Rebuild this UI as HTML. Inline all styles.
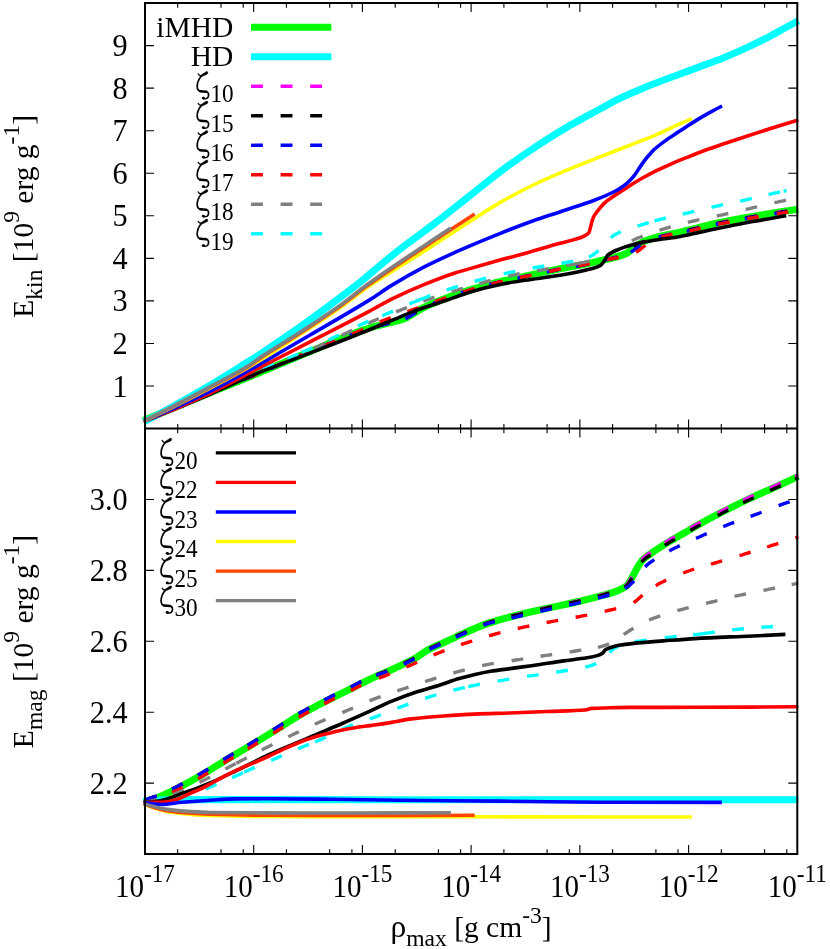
<!DOCTYPE html>
<html><head><meta charset="utf-8"><title>Ekin / Emag vs rho_max</title>
<style>
html,body{margin:0;padding:0;background:#fff;}
svg{display:block;will-change:transform;}
text{font-family:"Liberation Serif",serif;font-size:29.0px;fill:#000;}
text.s{font-size:23.2px;}
text.yt{font-size:30.3px;}
text.t{font-size:29.5px;}
</style></head><body>
<svg width="830" height="949" viewBox="0 0 830 949">
<defs><g id="zt" fill="none" stroke="#000" stroke-linecap="round" stroke-linejoin="round"><path d="M1.35 -12.36 Q2.14 -10.80 3.94 -10.32" stroke-width="1.3"/><path d="M3.70 -10.80 L9.24 -14.65 Q10.99 -15.01 10.93 -13.39 Q10.81 -12.24 9.49 -11.76 L4.55 -9.59Z" fill="#000" stroke-width="0.5"/><path d="M4.18 -10.07 C1.77 -6.94 0.21 -3.33 0.27 0.29 C0.33 3.42 1.71 4.99 4.55 5.17" stroke-width="1.7"/><path d="M3.22 4.93 L9.49 5.47" stroke-width="2.5"/><path d="M9.49 5.47 C11.65 5.83 12.26 8.72 11.17 10.83 C10.33 12.33 7.86 12.70 6.23 11.91" stroke-width="1.7"/><ellipse cx="6.47" cy="11.79" rx="1.6" ry="1.35" fill="#000" stroke="none"/></g></defs>
<rect width="830" height="949" fill="#fff"/>
<g fill="none" stroke-linecap="butt" stroke-linejoin="round">
<!-- top panel curves -->
<path d="M143.5 420.6C165.7 411.1 187.8 401.8 210.0 392.7C226.7 385.8 243.3 379.4 260.0 372.5C276.7 365.6 293.3 358.4 310.0 351.5C326.7 344.6 343.3 337.0 360.0 331.2C365.0 329.4 370.0 327.8 375.0 326.4C381.4 324.6 387.9 323.3 394.3 321.6C397.5 320.8 400.7 320.2 403.9 319.0C407.1 317.8 410.4 315.3 413.6 313.4C416.8 311.5 420.0 309.3 423.2 307.7C429.6 304.5 436.1 302.2 442.5 299.6C446.6 297.9 450.8 296.3 454.9 294.8C459.9 293.0 465.0 291.4 470.0 289.9C476.7 287.9 483.3 286.0 490.0 284.2C494.3 283.1 498.5 282.0 502.8 281.0C510.2 279.3 517.6 277.8 525.0 276.2C536.7 273.7 548.3 271.1 560.0 268.8C570.8 266.6 581.5 265.1 592.3 262.6C594.9 262.0 597.4 261.2 600.0 260.6C604.8 259.5 609.5 258.8 614.3 257.5C618.5 256.4 622.6 255.2 626.8 253.2C629.7 251.8 632.6 248.6 635.5 246.6C638.1 244.8 640.6 242.8 643.2 241.6C646.4 240.1 649.6 239.2 652.8 238.3C656.0 237.3 659.3 236.5 662.5 235.8C666.7 234.8 670.8 234.1 675.0 233.2C680.0 232.1 685.0 230.8 690.0 229.6C696.7 228.0 703.3 226.2 710.0 224.7C716.7 223.2 723.3 221.9 730.0 220.6C736.7 219.3 743.3 218.0 750.0 216.9C766.1 214.1 782.2 211.5 798.3 209.3" stroke="#00ff00" stroke-width="7.1"/>
<path d="M143.5 422.2C165.7 410.8 187.8 398.3 210.0 385.3C223.3 377.5 236.7 368.9 250.0 360.6C253.3 358.5 256.7 356.5 260.0 354.3C266.7 350.0 273.3 345.3 280.0 340.8C286.7 336.3 293.3 331.7 300.0 327.0C313.3 317.5 326.7 307.7 340.0 297.6C348.3 291.3 356.7 285.0 365.0 278.2C370.0 274.1 375.0 269.5 380.0 265.4C386.7 259.9 393.3 254.5 400.0 249.3C406.7 244.1 413.3 239.3 420.0 234.3C425.0 230.6 430.0 227.0 435.0 223.2C446.7 214.3 458.3 204.8 470.0 195.6C480.5 187.3 491.1 178.4 501.6 170.6C511.1 163.6 520.5 156.9 530.0 150.6C541.7 142.8 553.3 135.3 565.0 128.4C576.7 121.5 588.3 115.4 600.0 109.0C606.4 105.5 612.9 101.7 619.3 98.6C626.2 95.2 633.1 92.3 640.0 89.4C646.6 86.6 653.2 84.0 659.8 81.5C666.5 78.9 673.3 76.5 680.0 74.0C686.7 71.5 693.3 69.1 700.0 66.6C707.9 63.7 715.8 60.9 723.7 57.7C731.6 54.5 739.5 51.1 747.4 47.4C755.3 43.7 763.3 39.8 771.2 35.6C776.5 32.8 781.7 29.8 787.0 26.9C790.8 24.8 794.7 22.7 798.5 20.6" stroke="#00ffff" stroke-width="7.1"/>
<path d="M143.5 421.0L144.1 420.7L144.7 420.5L145.4 420.2L146.0 419.9M162.2 412.9L164.9 411.7L167.6 410.5L170.3 409.4L173.1 408.2M189.4 401.3L192.1 400.2L194.8 399.0L197.5 397.9L200.2 396.8M216.6 390.0L219.3 388.9L222.1 387.8L224.8 386.7L227.5 385.6M244.0 379.0L246.7 377.9L249.4 376.8L252.2 375.7L254.9 374.6M271.3 367.8L274.0 366.7L276.7 365.5L279.4 364.4L282.1 363.2M295.9 357.4L298.6 356.3L301.3 355.1L304.0 354.0L306.7 352.8M323.3 345.9L326.0 344.8L328.7 343.6L331.4 342.5L334.1 341.3M350.7 334.6L353.4 333.6L356.2 332.6L359.0 331.6L361.8 330.6M378.1 325.6L380.9 324.8L383.8 324.2L386.7 323.5L389.5 322.8M406.5 317.8L409.0 316.3L411.5 314.7L414.0 313.2L416.5 311.6M433.7 303.1L436.5 302.0L439.2 300.9L441.9 299.8L444.7 298.7M462.0 292.4L464.8 291.5L467.6 290.6L470.4 289.8L473.2 288.9M490.1 284.2L492.9 283.4L495.8 282.7L498.7 282.0L501.5 281.3M518.5 277.6L521.4 277.0L524.3 276.3L527.2 275.7L530.1 275.1M547.7 271.3L550.6 270.7L553.5 270.1L556.4 269.5L559.3 268.9M576.7 265.7L579.6 265.2L582.5 264.6L585.4 264.1L588.3 263.5M605.7 259.4L608.6 258.8L611.5 258.2L614.4 257.5L617.2 256.7M634.5 247.3L636.9 245.6L639.3 243.9L641.8 242.3L644.5 241.1M659.6 236.5L662.4 235.8L665.3 235.1L668.2 234.5L671.1 233.8M687.9 230.1L690.7 229.4L693.6 228.7L696.5 228.0L699.3 227.3M716.7 223.3L719.6 222.7L722.5 222.1L725.4 221.5L728.3 220.9M745.7 217.7L748.6 217.1L751.5 216.6L754.4 216.1L757.3 215.6M775.3 212.7L778.2 212.3L781.1 211.8L784.0 211.4L786.9 210.9" stroke="#ff00ff" stroke-width="3.4"/>
<path d="M143.5 421.0L144.1 420.7L144.7 420.5L145.3 420.2L145.9 420.0M162.1 413.0L164.9 411.9L167.6 410.7L170.3 409.6L173.0 408.4M189.3 401.6L192.1 400.4L194.8 399.3L197.5 398.2L200.2 397.0M216.6 390.3L219.3 389.2L222.1 388.1L224.8 387.0L227.5 385.9M244.0 379.3L246.7 378.2L249.4 377.1L252.2 376.0L254.9 374.9M271.3 368.1L274.0 367.0L276.7 365.8L279.4 364.7L282.1 363.5M295.9 357.7L298.6 356.6L301.3 355.4L304.0 354.3L306.7 353.1M323.3 346.2L326.0 345.1L328.7 343.9L331.4 342.8L334.1 341.6M350.7 334.9L353.4 333.9L356.2 332.9L359.0 331.9L361.8 330.9M378.1 325.9L380.9 325.1L383.8 324.5L386.7 323.8L389.5 323.1M406.5 318.1L409.0 316.6L411.5 315.0L414.0 313.5L416.5 311.9M433.7 303.4L436.5 302.3L439.2 301.2L441.9 300.1L444.7 299.0M462.0 292.7L464.8 291.8L467.6 290.9L470.4 290.1L473.2 289.2M490.1 284.5L492.9 283.7L495.8 283.0L498.7 282.3L501.5 281.6M518.5 277.9L521.4 277.3L524.3 276.6L527.2 276.0L530.1 275.4M547.7 271.6L550.6 271.0L553.5 270.4L556.4 269.8L559.3 269.2M576.7 266.0L579.6 265.5L582.5 264.9L585.4 264.4L588.3 263.8M605.7 259.7L608.6 259.1L611.5 258.5L614.4 257.8L617.2 257.0M634.5 247.6L636.9 245.9L639.3 244.2L641.8 242.6L644.5 241.4M659.6 236.8L662.4 236.1L665.3 235.4L668.2 234.8L671.1 234.1M687.9 230.4L690.7 229.7L693.6 229.0L696.5 228.3L699.3 227.6M716.7 223.6L719.6 223.0L722.5 222.4L725.4 221.8L728.3 221.2M745.7 218.0L748.6 217.4L751.5 216.9L754.4 216.4L757.3 215.9M775.3 213.0L778.2 212.6L781.1 212.1L784.0 211.7L786.9 211.2" stroke="#000000" stroke-width="3.4"/>
<path d="M143.5 421.0L143.8 420.9L144.2 420.7L144.5 420.6L144.8 420.4M161.1 413.5L163.8 412.4L166.5 411.3L169.3 410.1L172.0 409.0M188.3 402.2L191.0 401.0L193.8 399.9L196.5 398.8L199.2 397.6M215.6 390.9L218.3 389.8L221.1 388.7L223.8 387.6L226.5 386.5M243.0 379.9L245.7 378.8L248.4 377.7L251.2 376.6L253.9 375.5M270.3 368.7L273.0 367.6L275.7 366.4L278.4 365.3L281.1 364.1M294.9 358.3L297.6 357.2L300.3 356.0L303.0 354.9L305.7 353.8M322.3 346.8L325.0 345.7L327.7 344.5L330.4 343.4L333.1 342.2M349.7 335.5L352.4 334.5L355.2 333.4L358.0 332.4L360.8 331.4M377.1 326.3L379.9 325.6L382.8 324.9L385.7 324.2L388.5 323.5M405.4 318.8L408.0 317.4L410.5 315.8L413.0 314.3L415.5 312.7M432.7 304.0L435.5 302.9L438.2 301.8L440.9 300.7L443.7 299.6M461.0 293.2L463.8 292.3L466.6 291.4L469.4 290.6L472.2 289.7M489.1 284.9L491.9 284.2L494.8 283.5L497.7 282.7L500.5 282.0M517.5 278.3L520.4 277.7L523.3 277.1L526.2 276.4L529.1 275.8M546.7 272.0L549.6 271.4L552.5 270.8L555.4 270.2L558.3 269.6M575.7 266.4L578.6 265.9L581.5 265.3L584.4 264.8L587.3 264.2M604.7 260.1L607.6 259.6L610.5 259.0L613.4 258.4L616.3 257.7M630.7 252.4L633.1 250.7L635.5 249.0L637.9 247.3L640.3 245.5M658.6 237.3L661.4 236.6L664.3 236.0L667.2 235.3L670.1 234.7M686.8 231.3L689.7 230.7L692.6 230.0L695.5 229.3L698.3 228.6M715.7 224.5L718.6 223.9L721.5 223.3L724.4 222.7L727.3 222.1M744.7 218.8L747.6 218.3L750.5 217.8L753.4 217.3L756.3 216.8M774.3 213.9L777.2 213.4L780.1 213.0L783.0 212.5L785.9 212.1" stroke="#0000ff" stroke-width="3.4"/>
<path d="M143.5 421.0L144.5 420.6L145.4 420.2L146.4 419.8L147.4 419.3M163.6 412.4L166.4 411.2L169.1 410.1L171.8 408.9L174.5 407.8M190.8 400.9L193.6 399.8L196.3 398.7L199.0 397.5L201.7 396.4M218.1 389.7L220.8 388.6L223.6 387.5L226.3 386.4L229.0 385.3M245.5 378.7L248.2 377.6L250.9 376.5L253.7 375.4L256.4 374.3M272.8 367.5L275.5 366.3L278.2 365.2L280.9 364.1L283.6 362.9M297.4 357.1L300.1 356.0L302.8 354.8L305.5 353.7L308.2 352.5M324.7 345.7L327.5 344.6L330.2 343.5L332.9 342.3L335.7 341.2M352.3 334.2L355.0 333.0L357.7 331.8L360.4 330.6L363.1 329.4M379.8 321.9L382.6 320.8L385.3 319.7L388.1 318.6L390.8 317.6M407.4 311.7L410.2 310.7L413.0 309.7L415.8 308.7L418.5 307.7M435.1 301.6L437.9 300.6L440.7 299.6L443.5 298.6L446.3 297.7M463.5 292.1L466.3 291.2L469.1 290.3L471.9 289.5L474.8 288.7M491.6 284.2L494.4 283.5L497.3 282.7L500.2 282.0L503.0 281.3M520.0 277.7L522.9 277.0L525.8 276.4L528.7 275.8L531.6 275.2M549.2 271.4L552.1 270.8L555.0 270.2L557.9 269.6L560.8 269.0M578.2 265.8L581.1 265.3L584.0 264.7L586.9 264.2L589.8 263.6M607.2 259.6L610.1 259.0L613.0 258.5L615.9 258.0L618.8 257.4M636.0 252.4L638.5 250.8L640.8 249.0L643.0 247.1L645.4 245.3M661.2 237.3L664.0 236.4L666.8 235.6L669.7 234.9L672.5 234.3M689.4 231.0L692.2 230.4L695.1 229.7L698.0 229.0L700.8 228.2M718.2 224.2L721.1 223.7L724.0 223.1L726.9 222.5L729.8 221.9M747.2 218.7L750.1 218.2L753.0 217.7L755.9 217.2L758.8 216.7M776.8 213.8L779.7 213.3L782.6 212.9L785.5 212.4L788.4 212.0" stroke="#ff0000" stroke-width="3.4"/>
<path d="M151.5 418.2L154.3 417.2L157.0 416.1L159.8 415.0L162.5 414.0M178.9 407.4L181.7 406.3L184.4 405.1L187.1 404.0L189.8 402.9M206.1 395.9L208.8 394.7L211.5 393.5L214.2 392.3L216.9 391.1M232.9 383.5L235.5 382.2L238.2 381.0L240.9 379.7L243.5 378.4M259.7 371.2L262.4 370.1L265.1 368.9L267.9 367.8L270.6 366.6M286.9 359.8L289.6 358.7L292.4 357.6L295.1 356.4L297.8 355.3M314.0 348.2L316.7 347.0L319.4 345.8L322.1 344.5L324.8 343.3M341.6 335.4L344.2 334.1L346.9 332.9L349.6 331.6L352.2 330.4M368.0 323.2L370.7 322.1L373.4 320.9L376.1 319.8L378.8 318.6M395.9 311.9L398.7 310.8L401.4 309.7L404.1 308.6L406.9 307.5M423.3 301.1L426.0 300.1L428.8 299.1L431.6 298.1L434.4 297.2M451.7 291.7L454.5 290.9L457.3 290.0L460.1 289.1L462.9 288.3M479.3 283.5L482.2 282.8L485.0 282.0L487.9 281.2L490.7 280.5M508.1 276.1L511.0 275.5L513.9 274.9L516.8 274.3L519.7 273.8M537.0 270.8L539.9 270.3L542.8 269.8L545.7 269.3L548.6 268.8M566.2 265.7L569.1 265.1L572.0 264.6L574.9 264.1L577.8 263.5M578.2 263.5L581.1 262.9L584.0 262.4L586.9 261.7L589.8 261.1M606.4 255.4L609.0 254.0L611.5 252.6L614.1 251.0L616.6 249.5M631.9 240.9L634.5 239.5L637.2 238.3L639.9 237.2L642.7 236.1M659.5 230.2L662.3 229.4L665.1 228.5L667.9 227.7L670.8 226.8M687.9 222.4L690.7 221.7L693.6 221.0L696.5 220.3L699.4 219.7M716.7 216.0L719.6 215.4L722.5 214.8L725.4 214.2L728.3 213.5M745.7 209.4L748.5 208.8L751.4 208.1L754.3 207.4L757.1 206.8M774.4 202.7L777.3 202.1L780.2 201.4L783.1 200.8L786.0 200.1" stroke="#808080" stroke-width="3.4"/>
<path d="M155.5 416.7L158.2 415.6L161.0 414.6L163.7 413.5L166.5 412.4M182.9 405.7L185.6 404.6L188.3 403.4L191.0 402.3L193.7 401.1M209.9 394.0L212.6 392.8L215.3 391.6L218.0 390.3L220.7 389.1M236.6 381.4L239.2 380.1L241.9 378.8L244.6 377.5L247.2 376.3M263.4 369.0L266.1 367.9L268.8 366.7L271.5 365.5L274.2 364.4M287.6 358.6L290.3 357.5L293.0 356.3L295.7 355.1L298.4 354.0M301.7 352.5L304.4 351.3L307.1 350.1L309.8 348.9L312.5 347.7M328.5 340.0L331.1 338.8L333.8 337.5L336.5 336.2L339.1 334.9M357.8 326.0L360.5 324.8L363.2 323.6L365.9 322.4L368.6 321.3M382.3 315.7L385.0 314.5L387.7 313.4L390.4 312.2L393.1 311.1M409.4 304.0L412.1 302.8L414.8 301.7L417.5 300.6L420.3 299.5M419.3 299.9L422.0 298.8L424.8 297.8L427.6 296.7L430.3 295.7M446.7 289.9L449.5 289.0L452.3 288.1L455.1 287.2L457.9 286.3M474.6 281.3L477.5 280.5L480.3 279.7L483.1 278.9L486.0 278.2M503.7 273.8L506.6 273.1L509.5 272.5L512.4 271.9L515.3 271.3M532.6 268.0L535.5 267.5L538.4 267.0L541.3 266.5L544.2 266.0M561.5 263.2L564.4 262.7L567.3 262.2L570.2 261.7L573.1 261.3M588.9 257.2L591.5 255.7L594.0 254.2L596.4 252.4L598.6 250.5M610.8 237.7L613.1 235.9L615.6 234.3L618.2 233.0L620.9 231.8M637.6 226.0L640.4 225.2L643.2 224.3L646.0 223.4L648.8 222.6M654.5 221.0L657.3 220.2L660.2 219.5L663.1 218.7L665.9 218.0M682.8 214.1L685.6 213.4L688.5 212.8L691.4 212.1L694.2 211.4M711.5 207.3L714.4 206.6L717.3 206.0L720.2 205.3L723.1 204.7M740.2 201.1L743.1 200.5L746.0 199.8L748.9 199.2L751.8 198.5M768.6 194.5L771.4 193.9L774.3 193.2L777.2 192.6L780.1 191.9M783.6 191.1L784.3 191.0L785.0 190.8L785.8 190.7L786.5 190.5" stroke="#00ffff" stroke-width="3.4"/>
<path d="M143.5 421.2C165.7 412.9 187.8 403.8 210.0 394.3C223.3 388.6 236.7 381.9 250.0 376.3C270.0 367.9 290.0 360.9 310.0 353.1C330.0 345.3 350.0 337.6 370.0 329.5C378.1 326.2 386.2 322.8 394.3 319.4C400.7 316.7 407.2 313.8 413.6 311.4C420.0 309.0 426.4 306.9 432.8 304.8C436.9 303.4 440.9 302.2 445.0 300.8C451.4 298.6 457.9 296.1 464.3 294.0C470.7 291.9 477.2 290.0 483.6 288.3C490.0 286.6 496.4 285.1 502.8 283.9C510.2 282.5 517.6 281.4 525.0 280.3C536.7 278.5 548.3 277.3 560.0 275.3C570.8 273.5 581.5 271.7 592.3 268.6C595.1 267.8 598.0 267.0 600.8 265.2C602.1 264.4 603.3 262.2 604.6 260.4C605.6 259.0 606.5 256.5 607.5 255.6C609.8 253.4 612.0 252.4 614.3 251.3C617.5 249.7 620.7 248.5 623.9 247.4C627.1 246.3 630.4 245.4 633.6 244.5C636.8 243.6 640.0 242.7 643.2 242.1C646.4 241.5 649.6 241.0 652.8 240.5C656.0 240.0 659.3 239.4 662.5 239.0C666.7 238.4 670.8 238.1 675.0 237.5C680.0 236.8 685.0 235.6 690.0 234.5C696.7 233.1 703.3 231.4 710.0 230.0C716.7 228.6 723.3 227.3 730.0 226.0C736.7 224.7 743.3 223.3 750.0 222.1C762.1 219.9 774.1 217.7 786.2 215.7" stroke="#000000" stroke-width="3.6"/>
<path d="M143.5 421.2C165.7 413.3 187.8 403.7 210.0 393.3C223.3 387.1 236.7 379.5 250.0 372.6C270.0 362.3 290.0 352.2 310.0 341.9C330.0 331.6 350.0 321.6 370.0 310.9C377.2 307.1 384.4 302.7 391.6 299.1C402.2 293.9 412.7 289.2 423.3 284.9C433.8 280.6 444.4 276.4 454.9 273.0C459.9 271.4 465.0 270.1 470.0 268.6C480.5 265.6 491.1 262.5 501.6 259.6C507.7 257.9 513.9 256.5 520.0 254.8C533.3 251.2 546.7 246.9 560.0 243.3C565.0 241.9 570.0 241.0 575.0 239.4C578.2 238.4 581.4 237.5 584.6 235.8C586.1 235.0 587.5 234.5 589.0 232.5C589.5 231.8 590.1 228.6 590.6 226.7C591.5 223.5 592.4 219.4 593.3 217.5C594.9 214.0 596.5 212.4 598.1 210.3C600.4 207.4 602.6 204.6 604.9 202.6C607.8 200.0 610.7 198.3 613.6 196.3C616.8 194.1 620.0 192.2 623.2 190.1C626.4 188.0 629.6 185.8 632.8 183.8C636.0 181.8 639.3 179.8 642.5 178.0C646.7 175.6 650.8 173.4 655.0 171.3C659.7 169.0 664.4 166.9 669.1 164.8C674.4 162.5 679.6 160.3 684.9 158.2C689.9 156.2 695.0 154.1 700.0 152.2C715.8 146.3 731.6 141.2 747.4 136.0C764.4 130.4 781.3 125.1 798.3 120.0" stroke="#ff0000" stroke-width="3.6"/>
<path d="M143.5 421.2C165.7 412.4 187.8 402.2 210.0 391.3C223.3 384.7 236.7 377.2 250.0 369.8C270.0 358.7 290.0 346.7 310.0 335.0C330.0 323.3 350.0 312.1 370.0 299.6C377.2 295.1 384.4 289.8 391.6 285.4C402.2 278.9 412.7 272.9 423.3 267.4C433.8 262.0 444.4 257.2 454.9 252.4C459.9 250.1 465.0 247.9 470.0 245.8C480.5 241.3 491.1 237.0 501.6 232.8C512.2 228.6 522.7 224.6 533.3 220.8C543.8 217.1 554.4 213.8 564.9 210.2C574.7 206.9 584.5 203.9 594.3 200.2C600.7 197.8 607.2 195.3 613.6 192.0C616.8 190.4 620.0 188.5 623.2 186.2C625.4 184.6 627.7 182.6 629.9 180.4C631.5 178.8 633.2 176.9 634.8 174.8C636.4 172.7 638.0 169.9 639.6 167.6C641.2 165.2 642.9 162.7 644.5 160.6C646.1 158.5 647.7 156.6 649.3 154.8C650.9 153.0 652.5 151.0 654.1 149.5C655.7 148.0 657.3 146.8 658.9 145.6C662.1 143.1 665.4 140.7 668.6 138.4C671.8 136.2 675.0 134.2 678.2 132.1C681.4 130.0 684.6 127.9 687.8 125.8C691.0 123.7 694.3 121.6 697.5 119.6C701.7 117.1 705.8 114.7 710.0 112.4C714.0 110.2 718.1 108.0 722.1 106.0" stroke="#0000ff" stroke-width="3.6"/>
<path d="M143.5 421.4C165.7 411.0 187.8 399.8 210.0 388.2C223.3 381.2 236.7 374.2 250.0 366.4C266.7 356.6 283.3 345.5 300.0 334.6C313.3 325.9 326.7 317.3 340.0 307.8C348.3 301.9 356.7 294.8 365.0 289.0C385.1 275.0 405.2 263.6 425.3 250.6C440.2 241.0 455.1 230.9 470.0 221.4C480.5 214.7 491.1 207.6 501.6 201.6C512.2 195.6 522.7 190.1 533.3 185.0C543.9 179.9 554.4 175.4 565.0 170.9C576.7 166.0 588.3 161.5 600.0 156.9C610.0 153.0 620.0 149.2 630.0 145.2C639.6 141.4 649.3 137.8 658.9 133.6C664.9 131.0 671.0 127.9 677.0 125.2C681.9 123.0 686.9 120.8 691.8 118.6" stroke="#ffff00" stroke-width="3.6"/>
<path d="M143.5 421.4C165.7 410.6 187.8 399.2 210.0 387.4C223.3 380.3 236.7 373.8 250.0 365.4C253.3 363.3 256.7 360.6 260.0 358.4C273.3 349.5 286.7 341.9 300.0 333.2C313.3 324.5 326.7 315.9 340.0 306.4C348.3 300.4 356.7 293.4 365.0 287.4C385.1 272.9 405.2 259.8 425.3 246.4C433.8 240.7 442.4 235.2 450.9 229.6C458.8 224.4 466.8 219.1 474.7 213.9" stroke="#ff4500" stroke-width="3.6"/>
<path d="M143.5 421.4C165.7 410.3 187.8 398.7 210.0 386.8C223.3 379.6 236.7 373.2 250.0 364.7C253.3 362.6 256.7 359.9 260.0 357.6C273.3 348.6 286.7 341.0 300.0 332.3C313.3 323.6 326.7 315.0 340.0 305.4C348.3 299.4 356.7 292.3 365.0 286.2C385.1 271.5 405.2 258.4 425.3 244.9C433.8 239.2 442.4 233.6 450.9 228.0" stroke="#808080" stroke-width="3.6"/>
<!-- bottom panel curves -->
<path d="M143.5 801.6C145.7 801.1 147.8 800.6 150.0 800.0C152.3 799.4 154.6 798.6 156.9 797.8C162.5 795.8 168.1 792.9 173.7 790.2C179.2 787.5 184.8 784.5 190.3 781.4C196.9 777.8 203.4 774.0 210.0 770.0C215.0 767.0 220.0 763.6 225.0 760.6C231.7 756.5 238.3 752.8 245.0 748.8C250.7 745.4 256.3 742.0 262.0 738.5C268.0 734.8 274.0 731.1 280.0 727.4C286.7 723.2 293.3 718.6 300.0 714.8C306.7 711.0 313.3 707.7 320.0 704.2C325.0 701.6 330.0 699.0 335.0 696.5C340.7 693.7 346.3 691.0 352.0 688.2C358.0 685.2 364.0 682.0 370.0 679.2C377.0 675.9 384.1 673.1 391.1 669.9C395.7 667.8 400.4 665.7 405.0 663.4C408.8 661.5 412.6 659.7 416.4 657.5C419.5 655.7 422.6 653.0 425.7 651.2C430.5 648.5 435.2 646.5 440.0 644.2C447.0 640.9 454.1 637.8 461.1 634.6C465.7 632.5 470.4 630.3 475.0 628.4C479.6 626.5 484.3 624.5 488.9 623.0C495.9 620.7 503.0 618.8 510.0 617.0C521.7 614.0 533.3 611.4 545.0 608.8C556.7 606.2 568.3 603.9 580.0 601.2C587.9 599.3 595.7 597.4 603.6 595.2C608.4 593.8 613.2 592.6 618.0 590.6C620.8 589.4 623.6 588.3 626.4 586.0C628.4 584.4 630.3 580.4 632.3 577.1C634.0 574.3 635.6 570.6 637.3 567.8C639.0 565.0 640.7 562.0 642.4 560.2C644.9 557.5 647.5 556.0 650.0 554.1C656.6 549.3 663.2 545.2 669.8 541.2C674.9 538.1 679.9 535.5 685.0 532.6C688.5 530.6 692.0 528.4 695.5 526.4C703.7 521.8 711.8 517.4 720.0 513.2C729.6 508.2 739.3 503.4 748.9 498.9C757.7 494.7 766.6 491.0 775.4 487.0C783.0 483.5 790.7 480.0 798.3 476.4" stroke="#00ff00" stroke-width="7.1"/>
<path d="M143.5 801.6C149.0 800.9 154.5 800.1 160.0 800.0C173.3 799.7 186.7 799.6 200.0 799.6C266.7 799.6 333.3 799.7 400.0 799.7C466.7 799.7 533.3 799.8 600.0 799.8C666.1 799.8 732.2 799.8 798.3 799.8" stroke="#00ffff" stroke-width="7.1"/>
<path d="M145.8 800.3L148.4 798.9L151.1 797.8L153.9 796.9L156.7 796.1M172.2 789.1L174.9 787.8L177.5 786.5L180.1 785.1L182.7 783.7M198.0 775.3L200.6 773.8L203.1 772.3L205.6 770.8L208.2 769.3M223.4 759.8L225.9 758.3L228.4 756.8L230.9 755.3L233.5 753.8M247.7 745.4L250.3 743.8L252.8 742.3L255.3 740.8L257.8 739.2M273.2 729.8L275.7 728.3L278.2 726.7L280.7 725.2L283.2 723.6M298.7 713.8L301.2 712.3L303.8 710.9L306.4 709.5L309.0 708.1M324.3 700.2L326.9 698.8L329.5 697.5L332.1 696.1L334.8 694.8M350.8 687.0L353.5 685.7L356.1 684.3L358.7 683.0L361.3 681.6M376.3 674.9L379.0 673.9L381.8 672.9L384.6 671.9L387.3 670.8M403.9 663.3L406.6 662.0L409.2 660.7L411.8 659.4L414.4 658.0M429.6 648.5L432.2 647.2L434.9 646.0L437.6 644.7L440.3 643.5M455.9 636.3L458.6 635.1L461.3 633.9L464.0 632.7L466.7 631.5M483.5 624.3L486.3 623.3L489.1 622.3L491.9 621.4L494.7 620.6M511.5 616.0L514.3 615.3L517.2 614.6L520.1 613.9L522.9 613.2M540.3 609.2L543.2 608.5L546.1 607.9L549.0 607.2L551.9 606.6M569.1 602.9L572.0 602.3L574.9 601.7L577.8 601.0L580.6 600.3M597.9 596.0L600.8 595.2L603.6 594.4L606.4 593.6L609.3 592.8M624.9 586.2L627.2 584.3L628.9 581.9L630.4 579.3L631.9 576.8M641.6 559.9L643.6 557.7L645.8 555.8L648.2 554.0L650.6 552.3M664.8 542.9L667.3 541.3L669.8 539.8L672.3 538.3L674.9 536.8M690.4 528.0L692.9 526.5L695.5 525.0L698.1 523.6L700.6 522.1M717.7 513.0L720.3 511.7L722.9 510.3L725.5 509.0L728.2 507.6M743.1 500.3L745.7 499.0L748.4 497.7L751.1 496.5L753.8 495.3M770.0 488.0L772.7 486.8L775.4 485.6L778.1 484.4L780.8 483.1M795.0 476.5L795.8 476.2L796.6 475.8L797.4 475.4L798.2 475.0" stroke="#ff00ff" stroke-width="3.4"/>
<path d="M145.8 800.3L148.4 798.9L151.1 797.8L153.9 796.9L156.7 796.1M172.2 789.1L174.9 787.8L177.5 786.5L180.1 785.1L182.7 783.7M198.0 775.3L200.6 773.8L203.1 772.3L205.6 770.8L208.2 769.3M223.4 759.8L225.9 758.3L228.4 756.8L230.9 755.3L233.5 753.8M247.7 745.4L250.3 743.8L252.8 742.3L255.3 740.8L257.8 739.2M273.2 729.8L275.7 728.3L278.2 726.7L280.7 725.2L283.2 723.6M298.7 713.8L301.2 712.3L303.8 710.9L306.4 709.5L309.0 708.1M324.3 700.2L326.9 698.8L329.5 697.5L332.1 696.1L334.8 694.8M350.8 687.0L353.5 685.7L356.1 684.3L358.7 683.0L361.3 681.6M376.3 674.9L379.0 673.9L381.8 672.9L384.6 671.9L387.3 670.8M403.9 663.3L406.6 662.0L409.2 660.7L411.8 659.4L414.4 658.0M429.6 648.5L432.2 647.2L434.9 646.0L437.6 644.7L440.3 643.5M455.9 636.3L458.6 635.1L461.3 633.9L464.0 632.7L466.7 631.5M483.5 624.3L486.3 623.3L489.1 622.3L491.9 621.5L494.7 620.6M511.5 616.2L514.3 615.5L517.2 614.8L520.1 614.1L522.9 613.4M540.3 609.4L543.2 608.8L546.1 608.2L549.0 607.5L551.9 606.9M569.1 603.2L572.0 602.6L574.9 602.0L577.8 601.3L580.6 600.6M597.9 596.4L600.8 595.6L603.6 594.8L606.4 594.0L609.3 593.2M624.7 587.1L627.1 585.4L628.9 583.0L630.5 580.5L632.0 578.0M641.5 562.2L643.5 560.1L645.8 558.2L648.2 556.5L650.6 554.8M664.8 545.4L667.3 543.8L669.8 542.3L672.3 540.8L674.9 539.3M690.4 530.5L692.9 529.0L695.5 527.5L698.1 526.1L700.6 524.6M717.7 515.5L720.3 514.2L722.9 512.8L725.5 511.5L728.2 510.1M743.1 502.8L745.7 501.5L748.4 500.2L751.1 499.0L753.8 497.8M770.0 490.5L772.7 489.3L775.4 488.1L778.1 486.9L780.8 485.6M795.0 479.0L795.8 478.7L796.6 478.3L797.4 477.9L798.2 477.5" stroke="#000000" stroke-width="3.4"/>
<path d="M145.8 800.3L148.4 798.9L151.1 797.8L153.9 796.9L156.7 796.1M172.2 789.1L174.9 787.8L177.5 786.5L180.1 785.1L182.7 783.7M198.0 775.3L200.6 773.8L203.1 772.3L205.6 770.8L208.2 769.3M223.4 759.8L225.9 758.3L228.4 756.8L230.9 755.3L233.5 753.8M247.7 745.4L250.3 743.8L252.8 742.3L255.3 740.8L257.8 739.2M273.2 729.8L275.7 728.3L278.2 726.7L280.7 725.2L283.2 723.6M298.7 713.8L301.2 712.3L303.8 710.9L306.4 709.5L309.0 708.1M324.3 700.2L326.9 698.8L329.5 697.5L332.1 696.1L334.8 694.8M350.8 687.0L353.5 685.7L356.1 684.3L358.7 682.9L361.3 681.5M376.2 675.2L379.0 674.3L381.8 673.4L384.6 672.5L387.4 671.6M403.9 664.2L406.6 662.9L409.2 661.6L411.8 660.3L414.4 658.9M429.6 649.4L432.2 648.1L434.9 646.9L437.6 645.6L440.3 644.4M455.9 637.2L458.6 636.0L461.3 634.8L464.0 633.6L466.7 632.4M483.5 625.2L486.3 624.1L489.1 623.2L491.9 622.5L494.8 621.7M511.5 618.1L514.3 617.4L517.2 616.7L520.1 616.0L522.9 615.3M540.3 611.3L543.2 610.6L546.1 610.0L549.0 609.3L551.9 608.7M569.1 605.0L572.0 604.4L574.9 603.8L577.8 603.1L580.6 602.4M597.9 598.2L600.8 597.4L603.6 596.6L606.4 595.8L609.3 595.0M625.0 588.6L627.5 586.9L629.8 585.1L632.0 583.1L634.1 581.0M645.1 567.0L647.1 564.9L649.4 563.0L651.8 561.4L654.3 559.7M669.2 550.9L671.9 549.5L674.5 548.2L677.1 546.9L679.8 545.6M696.0 538.4L698.7 537.2L701.4 536.0L704.1 534.8L706.8 533.6M723.2 526.6L726.0 525.5L728.7 524.4L731.4 523.3L734.2 522.3M750.6 516.3L753.3 515.3L756.1 514.3L758.9 513.3L761.6 512.2M778.6 505.7L781.3 504.7L784.1 503.7L786.9 502.7L789.7 501.8" stroke="#0000ff" stroke-width="3.4"/>
<path d="M145.2 801.7L148.2 801.8L151.1 801.7L153.9 800.8L156.6 799.7M172.2 792.7L174.9 791.4L177.5 790.1L180.1 788.7L182.7 787.3M198.0 778.9L200.6 777.4L203.1 775.9L205.6 774.4L208.2 772.9M223.4 763.4L225.9 761.9L228.4 760.4L230.9 758.9L233.5 757.4M247.7 749.0L250.3 747.4L252.8 745.9L255.3 744.4L257.8 742.8M273.2 733.4L275.7 731.9L278.2 730.3L280.7 728.8L283.2 727.2M298.7 717.4L301.2 715.9L303.8 714.5L306.4 713.1L309.0 711.7M324.3 703.8L326.9 702.4L329.5 701.1L332.1 699.7L334.8 698.4M350.8 690.6L353.5 689.2L356.1 687.9L358.7 686.5L361.3 685.2M378.8 678.2L381.5 677.2L384.3 676.1L387.0 675.0L389.8 673.9M406.3 667.0L409.0 665.9L411.7 664.7L414.4 663.5L417.1 662.3M433.5 655.0L436.3 653.9L439.0 652.8L441.7 651.7L444.5 650.7M461.0 644.7L463.8 643.7L466.6 642.8L469.4 641.9L472.2 641.0M489.1 635.8L492.0 635.0L494.8 634.2L497.6 633.4L500.5 632.7M517.7 628.5L520.6 627.8L523.5 627.2L526.4 626.6L529.3 626.0M546.6 622.5L549.5 622.0L552.4 621.4L555.3 620.9L558.2 620.3M575.6 617.3L578.5 616.8L581.4 616.2L584.3 615.6L587.2 615.1M604.7 611.3L607.5 610.7L610.4 610.0L613.3 609.3L616.2 608.7M633.6 602.7L636.0 601.0L638.2 599.0L640.4 597.0L642.6 595.1M655.8 585.7L658.3 584.1L660.9 582.7L663.5 581.4L666.2 580.1M683.1 573.0L685.8 572.0L688.6 571.0L691.4 570.0L694.2 569.1M710.9 564.2L713.8 563.3L716.6 562.5L719.4 561.6L722.2 560.8M739.5 555.6L742.3 554.8L745.1 553.9L747.9 553.0L750.7 552.2M767.1 547.0L769.9 546.1L772.7 545.2L775.5 544.3L778.3 543.4M795.3 537.8L796.0 537.6L796.8 537.3L797.5 537.1L798.2 536.8" stroke="#ff0000" stroke-width="3.4"/>
<path d="M144.6 802.2L147.5 801.7L150.4 801.2L153.3 800.6L156.2 799.9M173.0 794.6L175.8 793.5L178.5 792.4L181.2 791.3L183.9 790.1M199.5 782.5L202.2 781.1L204.8 779.8L207.4 778.5L210.1 777.1M225.3 769.1L227.9 767.7L230.5 766.3L233.1 764.9L235.7 763.5M236.3 763.3L238.9 761.9L241.5 760.5L244.1 759.2L246.7 757.8M261.8 750.0L264.5 748.6L267.1 747.3L269.7 746.0L272.4 744.6M288.3 736.8L290.9 735.5L293.6 734.2L296.3 732.9L298.9 731.7M314.8 724.2L317.5 723.0L320.2 721.8L322.9 720.6L325.6 719.5M342.3 712.6L345.0 711.4L347.7 710.3L350.4 709.1L353.1 708.0M369.6 700.8L372.4 699.7L375.1 698.6L377.9 697.6L380.6 696.6M397.3 690.9L400.1 689.9L402.9 689.0L405.7 688.1L408.5 687.1M425.1 681.6L427.9 680.7L430.7 679.8L433.5 678.9L436.3 678.0M453.4 673.0L456.3 672.2L459.1 671.4L462.0 670.6L464.8 669.9M482.2 665.6L485.1 665.0L488.0 664.4L490.9 663.9L493.8 663.4M511.6 660.7L514.5 660.2L517.4 659.8L520.3 659.4L523.2 658.9M540.5 656.3L543.4 655.8L546.3 655.4L549.2 655.0L552.1 654.5M569.7 651.9L572.6 651.5L575.5 651.0L578.4 650.5L581.3 650.1M597.9 647.3L600.7 646.6L603.6 645.9L606.4 644.9L609.1 643.7M623.7 634.7L626.1 633.0L628.5 631.3L631.0 629.7L633.5 628.2M649.1 620.0L651.9 618.9L654.6 617.8L657.4 616.8L660.2 615.8M677.3 610.7L680.2 609.9L683.0 609.1L685.8 608.3L688.7 607.6M706.0 603.4L708.8 602.7L711.7 602.0L714.6 601.3L717.4 600.6M734.5 596.4L737.4 595.7L740.3 595.1L743.2 594.5L746.1 593.9M763.4 590.4L766.3 589.8L769.2 589.2L772.1 588.6L775.0 588.0M791.7 584.6L793.4 584.2L795.0 583.9L796.6 583.5L798.2 583.2" stroke="#808080" stroke-width="3.4"/>
<path d="M148.7 802.4L151.6 802.3L154.6 802.1L157.5 802.0L160.5 801.8M177.9 798.8L180.7 798.0L183.5 797.1L186.3 796.2L189.1 795.2M205.6 788.8L208.4 787.7L211.1 786.6L213.8 785.5L216.5 784.3M232.2 777.6L234.9 776.4L237.6 775.2L240.3 774.0L243.0 772.8M244.1 772.2L246.8 771.0L249.5 769.8L252.2 768.6L254.9 767.4M271.2 760.4L273.9 759.3L276.6 758.1L279.3 756.9L282.0 755.8M298.1 748.8L300.8 747.6L303.5 746.5L306.2 745.4L309.0 744.3M315.1 741.9L317.8 740.8L320.5 739.6L323.2 738.4L325.9 737.1M342.1 729.2L344.8 728.0L347.5 726.9L350.2 725.8L353.0 724.7M369.9 718.8L372.6 717.8L375.4 716.8L378.2 715.8L380.9 714.7M397.4 708.3L400.1 707.2L402.9 706.2L405.7 705.2L408.4 704.2M425.1 698.3L427.9 697.4L430.7 696.5L433.5 695.6L436.4 694.8M453.4 690.2L456.2 689.5L459.1 688.8L462.0 688.1L464.8 687.4M468.3 686.6L471.2 686.0L474.1 685.4L477.0 684.8L479.9 684.3M497.6 681.1L500.5 680.6L503.4 680.1L506.3 679.6L509.2 679.1M527.0 676.4L529.9 675.9L532.8 675.5L535.7 675.1L538.6 674.6M556.2 672.1L559.1 671.7L562.0 671.2L564.9 670.7L567.8 670.3M585.2 667.2L588.1 666.5L590.9 665.7L593.7 664.7L596.3 663.5M609.6 652.6L611.6 650.5L613.9 648.6L616.4 647.0L618.9 645.5M634.8 641.6L637.8 641.2L640.7 640.9L643.6 640.5L646.6 640.1M664.9 637.8L667.9 637.4L670.8 637.1L673.7 636.8L676.7 636.4M693.1 634.7L696.1 634.4L699.0 634.1L701.9 633.7L704.9 633.4M703.1 633.6L706.1 633.3L709.0 632.9L711.9 632.5L714.9 632.1M732.1 629.9L735.1 629.6L738.0 629.3L740.9 629.0L743.9 628.7M761.3 627.3L764.2 627.1L767.2 626.9L770.1 626.7L773.0 626.5" stroke="#00ffff" stroke-width="3.4"/>
<path d="M143.5 802.3C149.0 802.3 154.5 801.5 160.0 800.7C163.9 800.1 167.7 798.7 171.6 797.4C175.1 796.3 178.7 794.7 182.2 793.4C186.8 791.7 191.4 790.3 196.0 788.6C200.7 786.9 205.3 785.0 210.0 783.0C215.0 780.8 220.0 778.4 225.0 776.0C233.6 771.9 242.1 767.8 250.7 763.6C257.1 760.5 263.6 757.1 270.0 754.2C279.8 749.7 289.7 745.8 299.5 741.6C303.9 739.7 308.3 737.9 312.7 736.0C322.5 731.8 332.4 727.8 342.2 723.5C351.5 719.5 360.7 715.4 370.0 711.2C377.3 707.9 384.6 704.2 391.9 701.2C400.1 697.8 408.2 694.7 416.4 692.0C424.3 689.4 432.1 687.5 440.0 685.0C446.4 683.0 452.7 680.5 459.1 678.6C464.4 677.0 469.6 675.6 474.9 674.4C480.2 673.2 485.4 672.1 490.7 671.2C497.1 670.2 503.6 669.5 510.0 668.6C517.2 667.6 524.4 666.7 531.6 665.7C542.2 664.2 552.7 662.4 563.3 660.9C571.2 659.8 579.1 659.1 587.0 657.8C590.7 657.2 594.4 656.6 598.1 655.4C599.7 654.9 601.2 654.2 602.8 653.0C603.6 652.4 604.4 650.5 605.2 649.9C607.0 648.6 608.9 648.1 610.7 647.5C613.9 646.5 617.0 645.7 620.2 645.1C624.0 644.4 627.8 644.0 631.6 643.6C642.2 642.5 652.7 641.7 663.3 640.9C673.8 640.1 684.4 639.2 694.9 638.6C706.6 637.9 718.3 637.4 730.0 636.9C735.8 636.6 741.6 636.4 747.4 636.2C760.1 635.7 772.7 635.1 785.4 634.4" stroke="#000000" stroke-width="3.6"/>
<path d="M143.5 802.6C147.6 802.6 151.7 802.5 155.8 802.4C159.0 802.3 162.1 802.2 165.3 802.0C168.2 801.8 171.1 801.0 174.0 800.2C176.7 799.5 179.5 798.4 182.2 797.3C184.8 796.2 187.4 794.6 190.0 793.4C193.0 792.0 196.0 791.0 199.0 789.7C202.7 788.1 206.3 786.1 210.0 784.2C215.0 781.6 220.0 778.5 225.0 775.9C231.7 772.5 238.3 769.3 245.0 766.4C250.0 764.2 255.0 762.4 260.0 760.2C265.3 757.9 270.5 755.2 275.8 752.8C281.1 750.4 286.3 747.9 291.6 745.7C296.9 743.5 302.1 741.2 307.4 739.4C312.7 737.6 318.0 736.0 323.3 734.6C328.6 733.2 333.8 731.8 339.1 730.7C344.4 729.6 349.6 728.5 354.9 727.7C359.9 726.9 365.0 726.3 370.0 725.6C376.7 724.6 383.3 723.7 390.0 722.6C397.2 721.4 404.4 719.8 411.6 718.9C422.2 717.6 432.7 716.8 443.3 716.0C453.8 715.2 464.4 714.5 474.9 714.1C486.6 713.6 498.3 713.4 510.0 713.0C522.5 712.6 534.9 712.0 547.4 711.5C560.1 711.0 572.7 711.0 585.4 710.0C587.5 709.8 589.6 708.5 591.7 708.4C598.0 708.0 604.4 708.0 610.7 707.8C617.1 707.6 623.6 707.4 630.0 707.4C653.3 707.3 676.7 707.4 700.0 707.3C732.8 707.2 765.5 707.0 798.3 706.8" stroke="#ff0000" stroke-width="3.6"/>
<path d="M143.5 802.3C149.3 803.6 155.2 804.5 161.0 804.5C168.1 804.5 175.1 802.9 182.2 802.3C191.5 801.5 200.7 800.8 210.0 800.2C218.3 799.7 226.6 798.9 234.9 798.9C246.6 798.8 258.3 798.8 270.0 798.8C290.0 798.8 310.0 799.1 330.0 799.3C353.3 799.5 376.7 800.0 400.0 800.2C433.3 800.6 466.7 800.8 500.0 801.1C533.3 801.4 566.7 802.1 600.0 802.2C640.6 802.3 681.2 802.4 721.8 802.4" stroke="#0000ff" stroke-width="3.6"/>
<path d="M143.5 803.6C147.6 805.6 151.7 807.3 155.8 808.6C159.0 809.6 162.1 810.6 165.3 811.2C173.7 812.7 182.2 813.6 190.6 814.3C197.1 814.8 203.5 815.3 210.0 815.5C230.0 816.1 250.0 816.4 270.0 816.5C296.7 816.7 323.3 816.8 350.0 816.8C391.6 816.8 433.1 816.8 474.7 816.8C516.5 816.8 558.2 817.0 600.0 817.0C630.6 817.0 661.2 817.0 691.8 817.0" stroke="#ffff00" stroke-width="3.6"/>
<path d="M143.5 803.6C147.6 805.3 151.7 806.8 155.8 808.0C159.0 808.9 162.1 809.9 165.3 810.4C173.7 811.8 182.2 812.7 190.6 813.3C197.1 813.8 203.5 814.1 210.0 814.3C230.0 814.9 250.0 815.2 270.0 815.3C296.7 815.4 323.3 815.5 350.0 815.5C391.6 815.5 433.1 815.5 474.7 815.3" stroke="#ff4500" stroke-width="3.6"/>
<path d="M143.5 803.6C147.6 804.9 151.7 806.0 155.8 807.0C159.0 807.8 162.1 808.6 165.3 809.1C173.7 810.3 182.2 811.1 190.6 811.6C197.1 812.0 203.5 812.4 210.0 812.5C230.0 812.8 250.0 812.9 270.0 812.9C296.7 813.0 323.3 813.0 350.0 813.0C383.6 813.0 417.3 812.9 450.9 812.7" stroke="#808080" stroke-width="3.6"/>
<!-- legend samples -->
<path d="M251.0 27.3H331.4" stroke="#00ff00" stroke-width="7.1"/>
<path d="M251.0 56.8H331.4" stroke="#00ffff" stroke-width="7.1"/>
<path d="M251.0 86.3H331.4" stroke="#ff00ff" stroke-width="3.4" stroke-dasharray="11.9 17.7"/>
<path d="M251.0 115.8H331.4" stroke="#000000" stroke-width="3.4" stroke-dasharray="11.9 17.7"/>
<path d="M251.0 145.3H331.4" stroke="#0000ff" stroke-width="3.4" stroke-dasharray="11.9 17.7"/>
<path d="M251.0 174.8H331.4" stroke="#ff0000" stroke-width="3.4" stroke-dasharray="11.9 17.7"/>
<path d="M251.0 204.3H331.4" stroke="#808080" stroke-width="3.4" stroke-dasharray="11.9 17.7"/>
<path d="M251.0 233.8H331.4" stroke="#00ffff" stroke-width="3.4" stroke-dasharray="11.9 17.7"/>
<path d="M215.8 452.9H296.0" stroke="#000000" stroke-width="3.4"/>
<path d="M215.8 482.4H296.0" stroke="#ff0000" stroke-width="3.4"/>
<path d="M215.8 512.0H296.0" stroke="#0000ff" stroke-width="3.4"/>
<path d="M215.8 541.5H296.0" stroke="#ffff00" stroke-width="3.4"/>
<path d="M215.8 571.1H296.0" stroke="#ff4500" stroke-width="3.4"/>
<path d="M215.8 600.6H296.0" stroke="#808080" stroke-width="3.4"/>
</g>
<g fill="none" stroke="#000">
<path d="M177.7 3.0v4.7M177.7 423.9v9.4M177.7 854.0v-4.7M221.0 3.0v4.7M221.0 423.9v9.4M221.0 854.0v-4.7M243.2 3.0v4.7M243.2 423.9v9.4M243.2 854.0v-4.7M253.7 3.0v9M253.7 419.6v18M253.7 854.0v-9M286.4 3.0v4.7M286.4 423.9v9.4M286.4 854.0v-4.7M329.7 3.0v4.7M329.7 423.9v9.4M329.7 854.0v-4.7M351.9 3.0v4.7M351.9 423.9v9.4M351.9 854.0v-4.7M362.4 3.0v9M362.4 419.6v18M362.4 854.0v-9M395.2 3.0v4.7M395.2 423.9v9.4M395.2 854.0v-4.7M438.4 3.0v4.7M438.4 423.9v9.4M438.4 854.0v-4.7M460.6 3.0v4.7M460.6 423.9v9.4M460.6 854.0v-4.7M471.1 3.0v9M471.1 419.6v18M471.1 854.0v-9M503.9 3.0v4.7M503.9 423.9v9.4M503.9 854.0v-4.7M547.1 3.0v4.7M547.1 423.9v9.4M547.1 854.0v-4.7M569.3 3.0v4.7M569.3 423.9v9.4M569.3 854.0v-4.7M579.9 3.0v9M579.9 419.6v18M579.9 854.0v-9M612.6 3.0v4.7M612.6 423.9v9.4M612.6 854.0v-4.7M655.9 3.0v4.7M655.9 423.9v9.4M655.9 854.0v-4.7M678.0 3.0v4.7M678.0 423.9v9.4M678.0 854.0v-4.7M688.6 3.0v9M688.6 419.6v18M688.6 854.0v-9M721.3 3.0v4.7M721.3 423.9v9.4M721.3 854.0v-4.7M764.6 3.0v4.7M764.6 423.9v9.4M764.6 854.0v-4.7M786.8 3.0v4.7M786.8 423.9v9.4M786.8 854.0v-4.7M145.0 386.0h9M797.3 386.0h-9M145.0 343.5h9M797.3 343.5h-9M145.0 300.9h9M797.3 300.9h-9M145.0 258.4h9M797.3 258.4h-9M145.0 215.8h9M797.3 215.8h-9M145.0 173.2h9M797.3 173.2h-9M145.0 130.7h9M797.3 130.7h-9M145.0 88.1h9M797.3 88.1h-9M145.0 45.6h9M797.3 45.6h-9M145.0 783.1h9M797.3 783.1h-9M145.0 712.2h9M797.3 712.2h-9M145.0 641.3h9M797.3 641.3h-9M145.0 570.4h9M797.3 570.4h-9M145.0 499.5h9M797.3 499.5h-9" stroke-width="1.1"/>
<path d="M145.0 3.0H797.3V854.0H145.0ZM145.0 428.6H797.3" stroke-width="2"/>
</g>
<g>
<text transform="translate(127.7 396.5) scale(1 1.03)" text-anchor="end" class="yt">1</text>
<text transform="translate(127.7 354.0) scale(1 1.03)" text-anchor="end" class="yt">2</text>
<text transform="translate(127.7 311.4) scale(1 1.03)" text-anchor="end" class="yt">3</text>
<text transform="translate(127.7 268.9) scale(1 1.03)" text-anchor="end" class="yt">4</text>
<text transform="translate(127.7 226.3) scale(1 1.03)" text-anchor="end" class="yt">5</text>
<text transform="translate(127.7 183.7) scale(1 1.03)" text-anchor="end" class="yt">6</text>
<text transform="translate(127.7 141.2) scale(1 1.03)" text-anchor="end" class="yt">7</text>
<text transform="translate(127.7 98.6) scale(1 1.03)" text-anchor="end" class="yt">8</text>
<text transform="translate(127.7 56.1) scale(1 1.03)" text-anchor="end" class="yt">9</text>
<text transform="translate(127.7 793.6) scale(1 1.03)" text-anchor="end" class="yt">2.2</text>
<text transform="translate(127.7 722.7) scale(1 1.03)" text-anchor="end" class="yt">2.4</text>
<text transform="translate(127.7 651.8) scale(1 1.03)" text-anchor="end" class="yt">2.6</text>
<text transform="translate(127.7 580.9) scale(1 1.03)" text-anchor="end" class="yt">2.8</text>
<text transform="translate(127.7 510.0) scale(1 1.03)" text-anchor="end" class="yt">3.0</text>
<text transform="translate(145.0 896.8) scale(1 1.06)" text-anchor="middle">10<tspan dy="-13.5" font-size="23.2">-17</tspan></text>
<text transform="translate(253.7 896.8) scale(1 1.06)" text-anchor="middle">10<tspan dy="-13.5" font-size="23.2">-16</tspan></text>
<text transform="translate(362.4 896.8) scale(1 1.06)" text-anchor="middle">10<tspan dy="-13.5" font-size="23.2">-15</tspan></text>
<text transform="translate(471.1 896.8) scale(1 1.06)" text-anchor="middle">10<tspan dy="-13.5" font-size="23.2">-14</tspan></text>
<text transform="translate(579.9 896.8) scale(1 1.06)" text-anchor="middle">10<tspan dy="-13.5" font-size="23.2">-13</tspan></text>
<text transform="translate(688.6 896.8) scale(1 1.06)" text-anchor="middle">10<tspan dy="-13.5" font-size="23.2">-12</tspan></text>
<text transform="translate(797.3 896.8) scale(1 1.06)" text-anchor="middle">10<tspan dy="-13.5" font-size="23.2">-11</tspan></text>
<text x="471.0" y="937.2" text-anchor="middle" class="t"><tspan font-size="31.5">ρ</tspan><tspan dy="8.7" font-size="23.6">max</tspan><tspan dy="-8.7"> [g cm</tspan><tspan dy="-14.5" font-size="23.6">-3</tspan><tspan dy="14.5">]</tspan></text>
<text transform="translate(33.3 216.3) rotate(-90)" text-anchor="middle" class="t">E<tspan dy="8.7" font-size="23.6">kin</tspan><tspan dy="-8.7"> [10</tspan><tspan dy="-14.5" font-size="23.6">9</tspan><tspan dy="14.5"> erg g</tspan><tspan dy="-14.5" font-size="23.6">-1</tspan><tspan dy="14.5">]</tspan></text>
<text transform="translate(33.3 641.5) rotate(-90)" text-anchor="middle" class="t">E<tspan dy="8.7" font-size="23.6">mag</tspan><tspan dy="-8.7"> [10</tspan><tspan dy="-14.5" font-size="23.6">9</tspan><tspan dy="14.5"> erg g</tspan><tspan dy="-14.5" font-size="23.6">-1</tspan><tspan dy="14.5">]</tspan></text>
<text x="233.4" y="36.7" text-anchor="end" class="t">iMHD</text>
<text x="233.4" y="66.2" text-anchor="end" class="t">HD</text>
<text transform="translate(233.6 102.1) scale(1 1.06)" text-anchor="end" class="s">10</text>
<text transform="translate(233.6 131.6) scale(1 1.06)" text-anchor="end" class="s">15</text>
<text transform="translate(233.6 161.1) scale(1 1.06)" text-anchor="end" class="s">16</text>
<text transform="translate(233.6 190.6) scale(1 1.06)" text-anchor="end" class="s">17</text>
<text transform="translate(233.6 220.1) scale(1 1.06)" text-anchor="end" class="s">18</text>
<text transform="translate(233.6 249.6) scale(1 1.06)" text-anchor="end" class="s">19</text>
<text transform="translate(197.6 468.7) scale(1 1.06)" text-anchor="end" class="s">20</text>
<text transform="translate(197.6 498.2) scale(1 1.06)" text-anchor="end" class="s">22</text>
<text transform="translate(197.6 527.8) scale(1 1.06)" text-anchor="end" class="s">23</text>
<text transform="translate(197.6 557.3) scale(1 1.06)" text-anchor="end" class="s">24</text>
<text transform="translate(197.6 586.9) scale(1 1.06)" text-anchor="end" class="s">25</text>
<text transform="translate(197.6 616.4) scale(1 1.06)" text-anchor="end" class="s">30</text>
</g>
<g>
<use href="#zt" x="196.9" y="86.3"/>
<use href="#zt" x="196.9" y="115.8"/>
<use href="#zt" x="196.9" y="145.3"/>
<use href="#zt" x="196.9" y="174.8"/>
<use href="#zt" x="196.9" y="204.3"/>
<use href="#zt" x="196.9" y="233.8"/>
<use href="#zt" x="160.8" y="452.9"/>
<use href="#zt" x="160.8" y="482.4"/>
<use href="#zt" x="160.8" y="512.0"/>
<use href="#zt" x="160.8" y="541.5"/>
<use href="#zt" x="160.8" y="571.1"/>
<use href="#zt" x="160.8" y="600.6"/>
</g>
</svg>
</body></html>
